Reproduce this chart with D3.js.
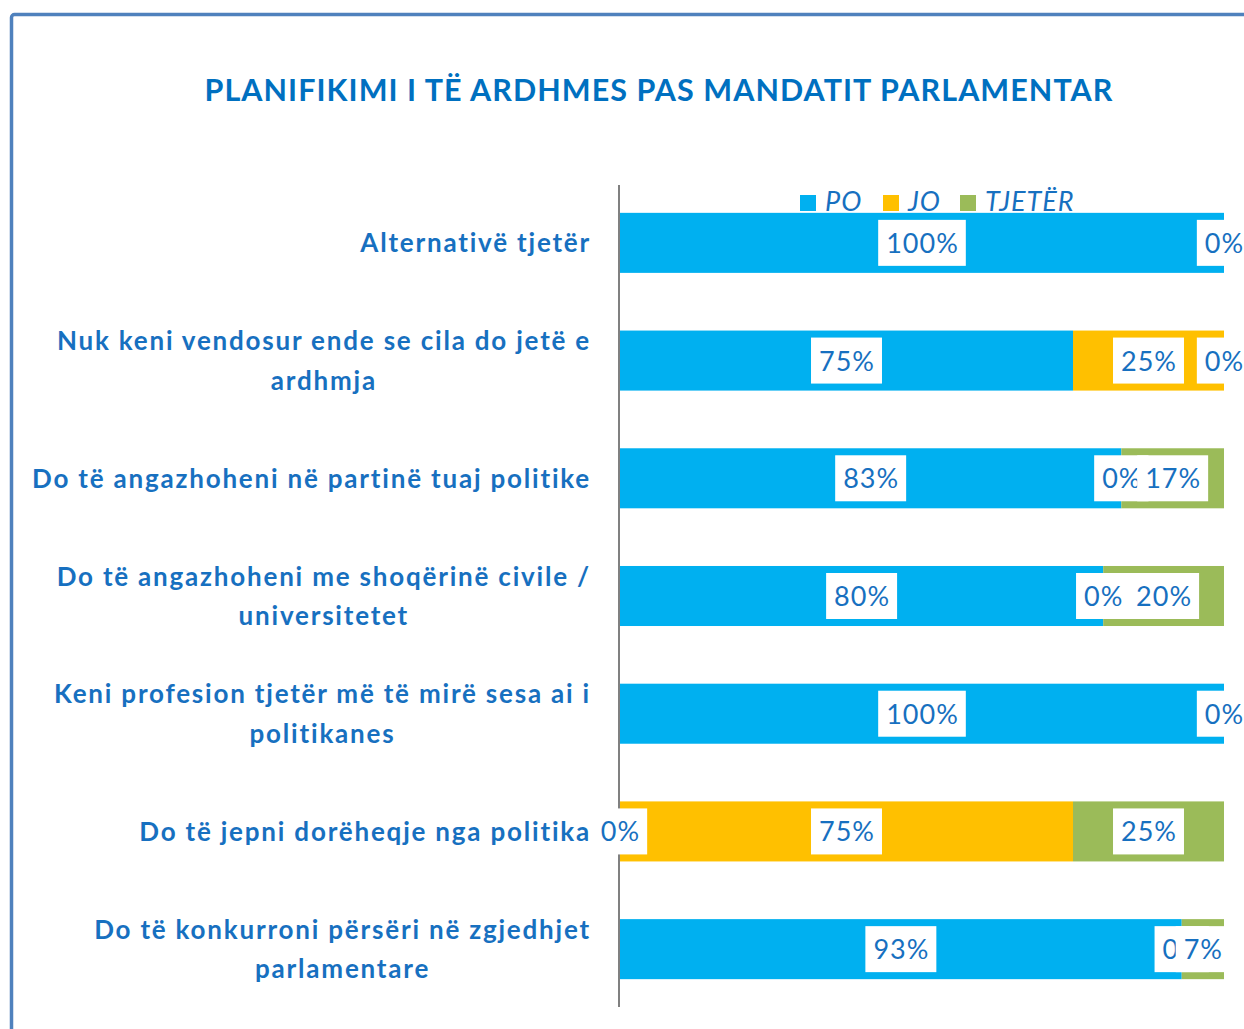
<!DOCTYPE html>
<html><head><meta charset="utf-8">
<script src="https://cdn.jsdelivr.net/npm/d3@7"></script>
<style>body{margin:0;background:#fff;}svg{display:block;}</style>
</head><body>
<svg id="c" width="1244" height="1029"></svg>
<script>
const title = "PLANIFIKIMI I TË ARDHMES PAS MANDATIT PARLAMENTAR";
const categories = [
  ["Alternativë tjetër"],
  ["Nuk keni vendosur ende se cila do jetë e", "ardhmja"],
  ["Do të angazhoheni në partinë tuaj politike"],
  ["Do të angazhoheni me shoqërinë civile /", "universitetet"],
  ["Keni profesion tjetër më të mirë sesa ai i", "politikanes"],
  ["Do të jepni dorëheqje nga politika"],
  ["Do të konkurroni përsëri në zgjedhjet", "parlamentare"]
];
const seriesNames = ["PO", "JO", "TJETËR"];
const seriesColors = ["#00B0F0", "#FFC000", "#9BBB59"];
const PO     = [100, 75, 83, 80, 100, 0, 93];
const JO     = [0, 25, 0, 0, 0, 75, 0];
const TJETER = [null, 0, 17, 20, null, 25, 7];
const seriesValues = [PO, JO, TJETER];

const svg = d3.select("#c");
const textColor = "#1770C0";
const font = "Lato, 'Open Sans', sans-serif";

// frame
svg.append("rect").attr("x", 11.5).attr("y", 14.5).attr("width", 1400).attr("height", 1200)
  .attr("rx", 3).attr("fill", "none").attr("stroke", "#4F81BD").attr("stroke-width", 3.5);

svg.append("text").attr("x", 659).attr("y", 101).attr("text-anchor", "middle")
  .attr("font-family", font).attr("font-weight", 700).attr("font-size", 30.5)
  .attr("letter-spacing", 1.05).attr("fill", "#0070C0").text(title);

const x = d3.scaleLinear().domain([0, 100]).range([620, 1224]);
const y = d3.scaleBand().domain(d3.range(categories.length)).range([184, 1008])
  .paddingInner(0.49).paddingOuter(0.245);

// stack
const rows = categories.map((c, i) => {
  let acc = 0;
  return seriesValues.map((s, k) => {
    const v = s[i];
    const x0 = acc; acc += (v || 0);
    return {i, k, v, x0, x1: acc};
  });
});

const bars = svg.append("g");
rows.forEach(r => r.forEach(d => {
  if (d.v) bars.append("rect").attr("x", x(d.x0)).attr("y", y(d.i))
    .attr("width", x(d.x1) - x(d.x0)).attr("height", y.bandwidth()).attr("fill", seriesColors[d.k]);
}));

// axis
svg.append("line").attr("x1", 619).attr("x2", 619).attr("y1", 185).attr("y2", 1007)
  .attr("stroke", "#808080").attr("stroke-width", 2);

// data labels
const lg = svg.append("g");
rows.forEach(r => r.forEach(d => {
  if (d.v === null) return;
  const cx = (x(d.x0) + x(d.x1)) / 2;
  const cy = y(d.i) + y.bandwidth() / 2;
  const g = lg.append("g");
  const box = g.append("rect");
  const t = g.append("text").attr("x", cx + 0.5).attr("y", cy + 10).attr("text-anchor", "middle")
    .attr("font-family", font).attr("font-size", 27).attr("letter-spacing", 1)
    .attr("fill", textColor).text(d.v + "%");
  const w = t.node().getComputedTextLength() + 15;
  box.attr("x", cx - w / 2).attr("y", cy - 23).attr("width", w).attr("height", 46).attr("fill", "#fff");
}));

// category labels
const cg = svg.append("g");
categories.forEach((lines, i) => {
  const cy = y(i) + y.bandwidth() / 2;
  const n = lines.length, lh = 39.5;
  const ts = lines.map((l, j) => cg.append("text")
    .attr("y", cy - (n - 1) * lh / 2 + j * lh + 9.5)
    .attr("text-anchor", "middle").attr("font-family", font).attr("font-weight", 700)
    .attr("font-size", 26).attr("letter-spacing", 1.8).attr("fill", textColor).text(l));
  const mw = d3.max(ts, t => t.node().getComputedTextLength());
  ts.forEach(t => t.attr("x", 591 - mw / 2));
});

// legend
const legX = [800, 883, 960];
const lgd = svg.append("g");
seriesNames.forEach((s, k) => {
  lgd.append("rect").attr("x", legX[k]).attr("y", 195).attr("width", 16).attr("height", 16).attr("fill", seriesColors[k]);
  lgd.append("text").attr("x", legX[k] + 25).attr("y", 211).attr("font-family", font)
    .attr("font-style", "italic").attr("font-size", 27).attr("letter-spacing", 1)
    .attr("fill", textColor).text(s);
});
</script>
</body></html>
